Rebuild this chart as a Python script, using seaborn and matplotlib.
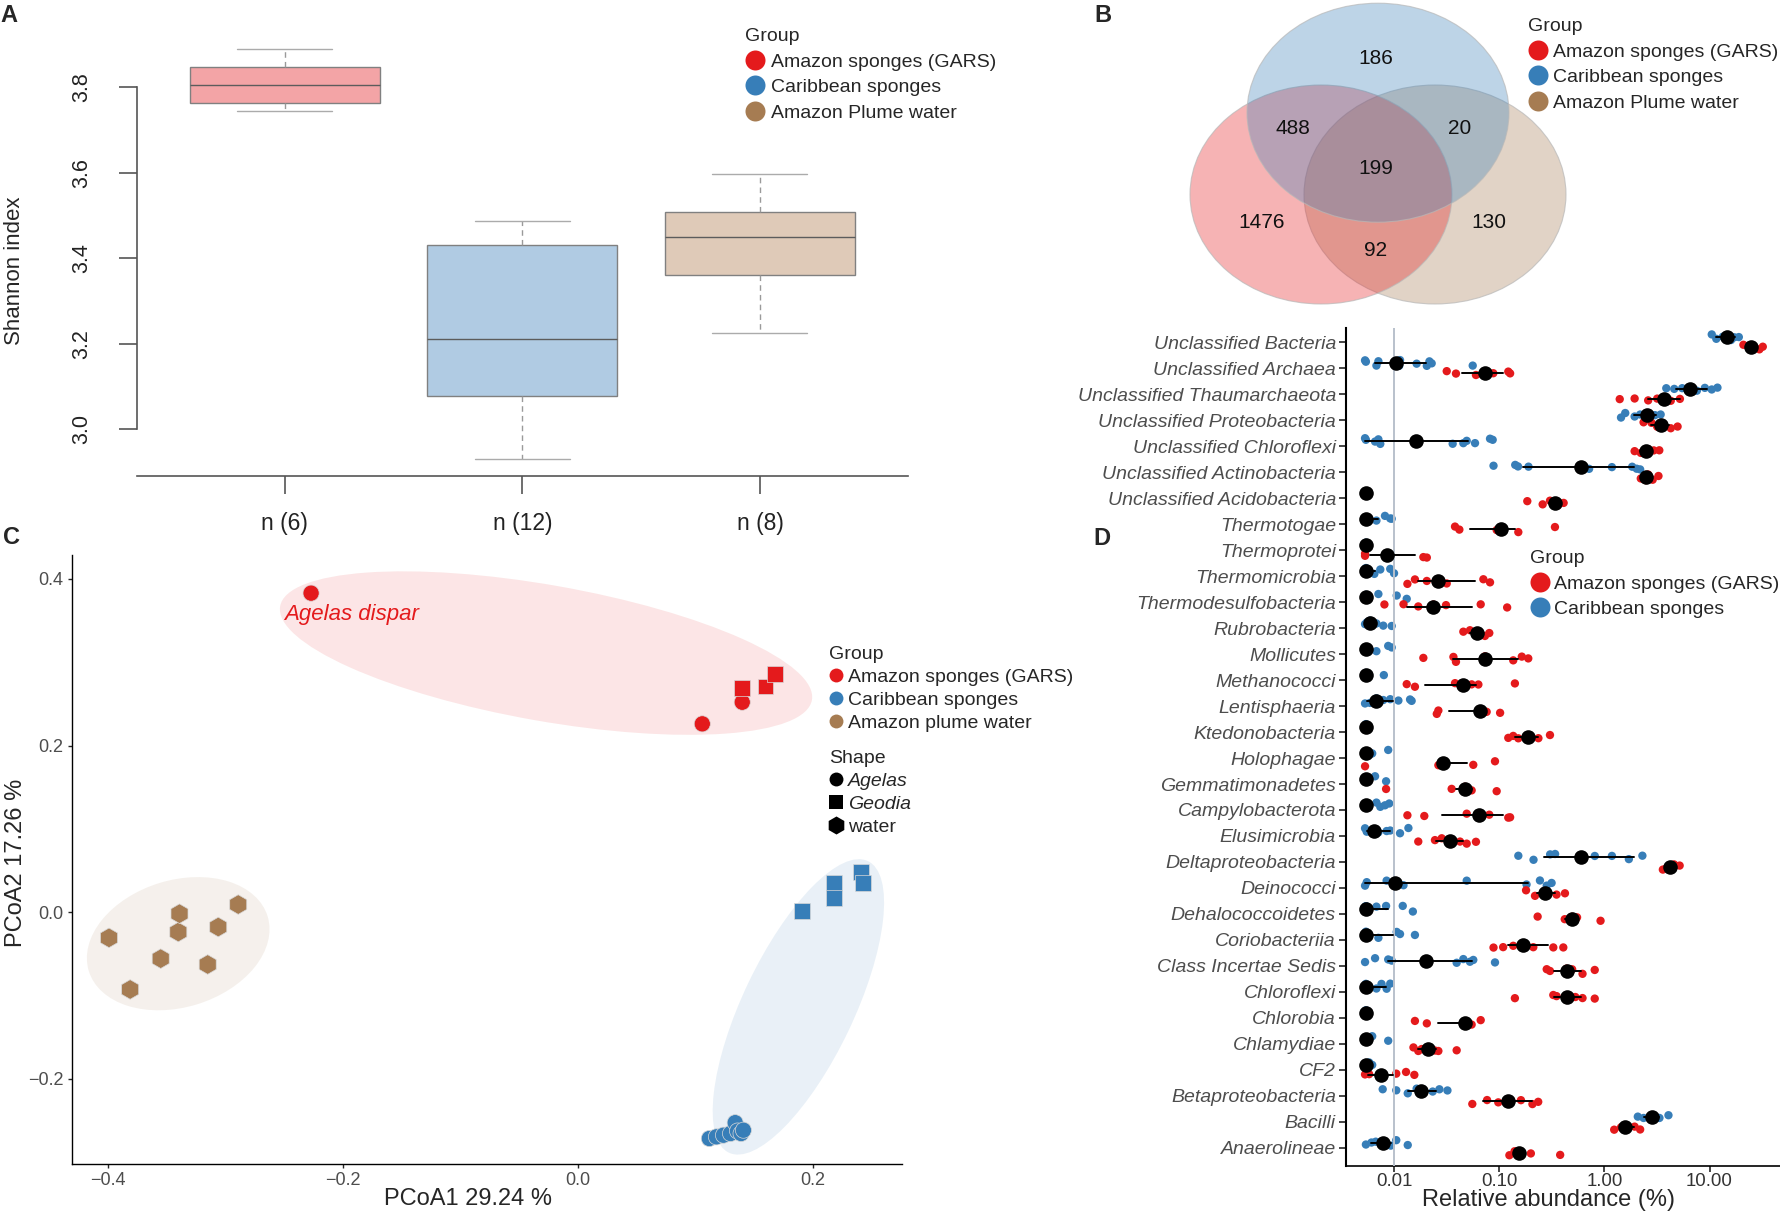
import numpy as np
import pandas as pd
import matplotlib
matplotlib.use("Agg")
import matplotlib.pyplot as plt
from matplotlib.lines import Line2D
from matplotlib.patches import Ellipse
from matplotlib.transforms import ScaledTranslation
from matplotlib.ticker import NullLocator
import seaborn as sns

sns.set_style("ticks")
plt.rcParams["font.family"] = ["Liberation Sans", "DejaVu Sans"]

RED = "#E41A1C"
BLUE = "#377EB8"
BROWN = "#A67C52"
GREY_TXT = "#4D4D4D"

####### Panel A data: Shannon index five-number summaries ##########
box_groups = ["n (6)", "n (12)", "n (8)"]
box_colors = ["#F3A4A6", "#B0CBE3", "#DFCAB8"]
shannon_whislo = [3.744, 2.930, 3.226]
shannon_q1 = [3.763, 3.077, 3.360]
shannon_med = [3.804, 3.212, 3.449]
shannon_q3 = [3.848, 3.430, 3.508]
shannon_whishi = [3.889, 3.488, 3.597]

####### Panel B data: shared ASVs ##########
venn_counts = [186, 488, 20, 199, 1476, 92, 130]

####### Panel C data: PCoA ##########
pcoa_x = [-0.227, 0.140, 0.106, 0.140, 0.160, 0.168,
          -0.399, -0.381, -0.355, -0.340, -0.339, -0.315, -0.306, -0.289,
          0.191, 0.218, 0.218, 0.241, 0.243,
          0.112, 0.118, 0.124, 0.130, 0.134, 0.136, 0.139, 0.141]
pcoa_y = [0.383, 0.252, 0.226, 0.269, 0.271, 0.286,
          -0.031, -0.093, -0.056, -0.024, -0.002, -0.063, -0.018, 0.009,
          0.001, 0.035, 0.017, 0.048, 0.035,
          -0.272, -0.270, -0.268, -0.266, -0.253, -0.263, -0.266, -0.262]
pcoa_group = (["Amazon sponges (GARS)"] * 6 + ["Amazon plume water"] * 8
              + ["Caribbean sponges"] * 13)
pcoa_shape = (["Agelas"] * 3 + ["Geodia"] * 3 + ["water"] * 8
              + ["Geodia"] * 5 + ["Agelas"] * 8)

####### Panel D data: relative abundance (%) per class ##########
Z = 0.0054  # absent taxa drawn at the left edge
taxa = ["Unclassified Bacteria", "Unclassified Archaea", "Unclassified Thaumarchaeota",
        "Unclassified Proteobacteria", "Unclassified Chloroflexi",
        "Unclassified Actinobacteria", "Unclassified Acidobacteria", "Thermotogae",
        "Thermoprotei", "Thermomicrobia", "Thermodesulfobacteria", "Rubrobacteria",
        "Mollicutes", "Methanococci", "Lentisphaeria", "Ktedonobacteria", "Holophagae",
        "Gemmatimonadetes", "Campylobacterota", "Elusimicrobia", "Deltaproteobacteria",
        "Deinococci", "Dehalococcoidetes", "Coriobacteriia", "Class Incertae Sedis",
        "Chloroflexi", "Chlorobia", "Chlamydiae", "CF2", "Betaproteobacteria",
        "Bacilli", "Anaerolineae"]

car_pts = [
    [10.5, 11.6, 13.4, 14.8, 16.0, 17.2, 19.0],
    [0.0053, 0.0054, 0.0068, 0.0071, 0.0104, 0.0112, 0.0114, 0.0164, 0.0205, 0.0217, 0.0228, 0.056],
    [3.88, 4.62, 5.5, 6.55, 7.58, 9.03, 10.5, 11.9],
    [1.44, 1.58, 1.94, 2.19, 2.55, 2.61, 3.03, 3.43],
    [0.0053, 0.0054, 0.0066, 0.0071, 0.0074, 0.0361, 0.0456, 0.0491, 0.0589, 0.0818, 0.0867],
    [0.0883, 0.142, 0.151, 0.190, 0.603, 0.716, 1.18, 1.84, 2.03, 2.19],
    [Z, Z, Z],
    [Z, Z, Z, 0.0068, 0.0082, 0.0092, 0.0095],
    [Z, Z, Z],
    [Z, Z, Z, 0.0065, 0.0074, 0.0092, 0.010],
    [Z, Z, Z, 0.0071, 0.0106, 0.0132],
    [0.0053, 0.0055, 0.0059, 0.0062, 0.0068, 0.0079, 0.0095],
    [Z, Z, Z, 0.0068, 0.0088, 0.0095],
    [Z, Z, Z, 0.008],
    [0.0053, 0.0059, 0.0068, 0.0079, 0.0092, 0.011, 0.0142, 0.0147],
    [Z, Z, Z],
    [Z, Z, Z, 0.0062, 0.0088],
    [Z, Z, Z, 0.0066, 0.0084],
    [Z, Z, Z, 0.0068, 0.0074, 0.0082, 0.009],
    [0.0053, 0.0055, 0.0065, 0.0071, 0.0085, 0.0092, 0.0114, 0.0137],
    [0.152, 0.212, 0.305, 0.34, 0.603, 0.811, 1.18, 1.71, 2.3],
    [0.0053, 0.0055, 0.0085, 0.0102, 0.0123, 0.0491, 0.182, 0.244, 0.283, 0.315],
    [Z, Z, Z, 0.0068, 0.0084, 0.0121, 0.0151],
    [Z, Z, Z, 0.0071, 0.0106, 0.0114, 0.0158],
    [0.0053, 0.0066, 0.0088, 0.0095, 0.0201, 0.0394, 0.0456, 0.0527, 0.0567, 0.0912],
    [Z, Z, Z, 0.0068, 0.0076, 0.0085, 0.0092],
    [Z, Z, Z],
    [Z, Z, Z, 0.0062, 0.0088],
    [Z, Z, Z, 0.0058, 0.0062],
    [0.0078, 0.0105, 0.0135, 0.0164, 0.0182, 0.0233, 0.027, 0.0322],
    [2.08, 2.36, 2.81, 3.34, 4.07],
    [0.0054, 0.0061, 0.0067, 0.0078, 0.0093, 0.0105, 0.0135],
]
car_mid = [14.8, 0.0104, 6.55, 2.55, 0.0162, 0.603, Z, Z, Z, Z, Z, 0.0059, Z, Z, 0.0068, Z,
           Z, Z, Z, 0.0065, 0.603, 0.0102, Z, Z, 0.0201, Z, Z, Z, Z, 0.0182, 2.81, 0.0078]
car_lo = [11.6, 0.0066, 4.8, 1.9, 0.0053, 0.168, Z, Z, Z, Z, Z, 0.0055, Z, Z, 0.0055, Z,
          Z, Z, Z, 0.0055, 0.266, 0.0053, Z, Z, 0.0088, Z, Z, Z, Z, 0.0135, 2.36, 0.0061]
car_hi = [17.5, 0.0201, 9.5, 3.1, 0.051, 1.93, Z, 0.0071, Z, 0.0066, 0.0062, 0.0068, Z, Z,
          0.0097, Z, Z, Z, 0.006, 0.0092, 1.93, 0.189, 0.0088, 0.0098, 0.0547, 0.0084, Z, Z,
          Z, 0.025, 3.3, 0.0093]

ama_pts = [
    [21.0, 23.2, 25.0, 26.3, 29.8, 32.1],
    [0.0317, 0.0388, 0.0601, 0.0732, 0.0879, 0.122, 0.127],
    [1.40, 1.94, 2.61, 3.18, 3.69, 4.28, 5.23],
    [2.36, 2.81, 3.18, 3.43, 3.69, 4.28, 4.97],
    [1.94, 2.22, 2.48, 2.61, 2.95, 3.33],
    [2.22, 2.40, 2.48, 2.61, 2.88, 3.27],
    [0.185, 0.259, 0.304, 0.33, 0.36, 0.41],
    [0.038, 0.0418, 0.0946, 0.105, 0.152, 0.339],
    [0.0053, 0.0053, 0.0086, 0.019, 0.0205],
    [0.0134, 0.0158, 0.0205, 0.0264, 0.0317, 0.0707, 0.0818],
    [0.0081, 0.0123, 0.017, 0.0237, 0.0312, 0.0667, 0.119],
    [0.0456, 0.0527, 0.061, 0.0732, 0.0805],
    [0.019, 0.0367, 0.0388, 0.0732, 0.136, 0.164, 0.189],
    [0.0132, 0.0158, 0.038, 0.045, 0.0547, 0.0634, 0.141],
    [0.0255, 0.0264, 0.0658, 0.076, 0.102],
    [0.122, 0.136, 0.152, 0.189, 0.236, 0.304],
    [0.0053, 0.0264, 0.0294, 0.0567, 0.0912],
    [0.0084, 0.0353, 0.0473, 0.0547, 0.0946],
    [0.0134, 0.0194, 0.0491, 0.0647, 0.0805, 0.122, 0.127],
    [0.017, 0.0245, 0.0284, 0.034, 0.0424, 0.0491, 0.0601],
    [3.6, 3.9, 4.18, 4.6, 5.2],
    [0.18, 0.219, 0.272, 0.351, 0.422],
    [0.232, 0.42, 0.494, 0.55, 0.92],
    [0.0883, 0.109, 0.136, 0.169, 0.211, 0.327, 0.407],
    [0.283, 0.304, 0.437, 0.494, 0.62, 0.81],
    [0.141, 0.327, 0.351, 0.437, 0.53, 0.62, 0.81],
    [0.0158, 0.0205, 0.0473, 0.0547, 0.0667],
    [0.0153, 0.017, 0.0183, 0.0212, 0.0245, 0.0264, 0.0394],
    [0.0053, 0.0058, 0.0075, 0.0105, 0.013, 0.0156],
    [0.0555, 0.0767, 0.098, 0.12, 0.161, 0.207, 0.235],
    [1.24, 1.44, 1.58, 1.94, 2.19],
    [0.125, 0.14, 0.154, 0.2, 0.38],
]
ama_mid = [25.0, 0.0732, 3.69, 3.43, 2.48, 2.48, 0.34, 0.105, 0.0086, 0.0264, 0.0237, 0.061,
           0.0732, 0.045, 0.0658, 0.189, 0.0294, 0.0473, 0.0647, 0.034, 4.18, 0.272, 0.494,
           0.169, 0.437, 0.437, 0.0473, 0.0212, 0.0075, 0.12, 1.58, 0.154]
ama_lo = [23.0, 0.044, 2.6, 2.8, 2.2, 2.3, 0.30, 0.0527, 0.0059, 0.017, 0.0134, 0.053,
          0.0367, 0.0197, 0.0336, 0.141, 0.0294, 0.039, 0.0284, 0.025, 3.8, 0.23, 0.42,
          0.122, 0.33, 0.33, 0.0264, 0.017, 0.0056, 0.07, 1.4, 0.14]
ama_hi = [28.0, 0.109, 5.2, 4.1, 2.8, 2.75, 0.37, 0.141, 0.0158, 0.0589, 0.0547, 0.068,
          0.152, 0.0601, 0.0658, 0.236, 0.049, 0.0547, 0.109, 0.045, 4.5, 0.34, 0.55,
          0.293, 0.6, 0.6, 0.0473, 0.025, 0.0098, 0.207, 1.9, 0.154]

W, H = 1780, 1215
fig = plt.figure(figsize=(W / 100, H / 100), dpi=100)


def rect(x0, y0, x1, y1):
    # pixel box (top-left origin) -> figure fraction rect
    return [x0 / W, 1 - y1 / H, (x1 - x0) / W, (y1 - y0) / H]


def group_legend(ax, colors, labels, title, x, y, ms, fs=14, spacing=0.41, hl=1.0, tp=0.36,
                 markers=None):
    markers = markers or ["o"] * len(colors)
    handles = [Line2D([], [], marker=m, ls="", color=c, markersize=s, markeredgewidth=0)
               for c, m, s in zip(colors, markers, np.broadcast_to(ms, len(colors)))]
    leg = ax.legend(handles, labels, title=title, loc="upper left",
                    bbox_to_anchor=(x / W, 1 - y / H), bbox_transform=fig.transFigure,
                    frameon=False, fontsize=fs, title_fontsize=fs, handlelength=hl,
                    handletextpad=tp, labelspacing=spacing, borderpad=0, borderaxespad=0)
    leg._legend_box.align = "left"
    return leg


####### Panel A ##########
ax_a = fig.add_axes(rect(136.6, 35.7, 908, 476))
a_vals, a_grp = [], []
for i, g in enumerate(box_groups):
    a_vals += [shannon_whislo[i], shannon_q1[i], shannon_med[i], shannon_q3[i], shannon_whishi[i]]
    a_grp += [g] * 5
df_a = pd.DataFrame({"group": a_grp, "shannon": a_vals})
sns.boxplot(data=df_a, x="group", y="shannon", hue="group", order=box_groups,
            palette=dict(zip(box_groups, box_colors)), saturation=1, width=0.8,
            linecolor="#808080", linewidth=1.0, showfliers=False,
            whiskerprops=dict(linestyle=(0, (4, 3)), color="#9a9a9a"),
            capprops=dict(color="#ababab"), medianprops=dict(color="#5c5c5c"),
            legend=False, ax=ax_a)
ax_a.set_xlim(-0.623, 2.623)
ax_a.set_ylim(2.891, 3.92)
sns.despine(ax=ax_a)
ax_a.spines["left"].set_bounds(3.0, 3.8)
for s in ["left", "bottom"]:
    ax_a.spines[s].set_color("#555555")
    ax_a.spines[s].set_linewidth(1.2)
ax_a.set_yticks([3.0, 3.2, 3.4, 3.6, 3.8])
ax_a.set_yticklabels(["3.0", "3.2", "3.4", "3.6", "3.8"])
ax_a.tick_params(axis="y", length=13, width=1.2, color="#555555", pad=19,
                 labelsize=15.5, labelrotation=90, labelcolor="#222222")
for lab in ax_a.get_yticklabels():
    lab.set_va("center")
ax_a.tick_params(axis="x", length=13, width=1.2, color="#555555", pad=13,
                 labelsize=16.5, labelcolor="#222222")
ax_a.set_xlabel("")
ax_a.set_ylabel("Shannon index", fontsize=16)
ax_a.yaxis.set_label_coords(-0.145, 0.466)
group_legend(ax_a, [RED, BLUE, BROWN],
             ["Amazon sponges (GARS)", "Caribbean sponges", "Amazon Plume water"],
             "Group", 745, 28, 14.4)

####### Panel B ##########
ax_b = fig.add_axes(rect(1150, 0, 1590, 320))
ax_b.set_xlim(1150, 1590)
ax_b.set_ylim(320, 0)
ax_b.axis("off")
venn_centers = [(1435, 194.5), (1321, 194.5), (1378, 112.7)]
venn_fill = [BROWN, RED, BLUE]
for (cx, cy), c in zip(venn_centers, venn_fill):
    ax_b.add_patch(Ellipse((cx, cy), 262, 219, facecolor=c, alpha=0.33, edgecolor="none"))
    ax_b.add_patch(Ellipse((cx, cy), 262, 219, facecolor="none", edgecolor="#b8b8b8",
                           linewidth=0.8, alpha=0.7))
venn_pos = [(1376, 58), (1292.6, 128), (1459.8, 128), (1376, 168), (1261.7, 223),
            (1376, 250), (1489, 223)]
for (tx, ty), n in zip(venn_pos, venn_counts):
    ax_b.text(tx, ty, str(n), ha="center", va="center", fontsize=15, color="#111111")
group_legend(ax_b, [RED, BLUE, BROWN],
             ["Amazon sponges (GARS)", "Caribbean sponges", "Amazon Plume water"],
             "Group", 1528, 18, 14.4, tp=0.3)

####### Panel C ##########
ax_c = fig.add_axes(rect(72, 555, 902, 1163.5))
ax_c.set_xlim(-0.4305, 0.276)
ax_c.set_ylim(-0.302, 0.4288)
ell_cx = [-0.0270, 0.1878, -0.3401]
ell_cy = [0.311, -0.1139, -0.038]
ell_w = [5.40, 3.23, 1.87]   # inches (full axes)
ell_h = [1.36, 1.11, 1.27]
ell_ang = [-10.0, 64.5, 17.0]
ell_col = [RED, BLUE, BROWN]
for cx, cy, w, h, a, c in zip(ell_cx, ell_cy, ell_w, ell_h, ell_ang, ell_col):
    tr = fig.dpi_scale_trans + ScaledTranslation(cx, cy, ax_c.transData)
    ax_c.add_patch(Ellipse((0, 0), w, h, angle=a, transform=tr, facecolor=c,
                           alpha=0.11, edgecolor="none", zorder=1))
df_c = pd.DataFrame({"PCoA1": pcoa_x, "PCoA2": pcoa_y, "group": pcoa_group, "shape": pcoa_shape})
sns.scatterplot(data=df_c, x="PCoA1", y="PCoA2", hue="group", style="shape", size="shape",
                palette={"Amazon sponges (GARS)": RED, "Caribbean sponges": BLUE,
                         "Amazon plume water": BROWN},
                markers={"Agelas": "o", "Geodia": "s", "water": "h"},
                sizes={"Agelas": 135, "Geodia": 125, "water": 200},
                edgecolor="#d8d8d8", linewidth=0.5, legend=False, ax=ax_c, zorder=3)
ax_c.text(-0.250, 0.3568, "Agelas dispar", color=RED, style="italic", fontsize=16,
          ha="left", va="center")
sns.despine(ax=ax_c)
ax_c.set_xticks([-0.4, -0.2, 0.0, 0.2])
ax_c.set_yticks([-0.2, 0.0, 0.2, 0.4])
ax_c.tick_params(length=3, width=1, labelsize=13, labelcolor=GREY_TXT, pad=3)
for s in ["left", "bottom"]:
    ax_c.spines[s].set_color("black")
    ax_c.spines[s].set_linewidth(1.0)
ax_c.set_xlabel("PCoA1 29.24 %", fontsize=17)
ax_c.set_ylabel("PCoA2 17.26 %", fontsize=17)
ax_c.xaxis.set_label_coords(0.477, -0.040)
ax_c.yaxis.set_label_coords(-0.054, 0.494)
leg_g = group_legend(ax_c, [RED, BLUE, BROWN],
                     ["Amazon sponges (GARS)", "Caribbean sponges", "Amazon plume water"],
                     "Group", 829, 646, 10, spacing=0.28, hl=0.72, tp=0.28)
ax_c.add_artist(leg_g)
leg_s = group_legend(ax_c, ["black", "black", "black"], ["Agelas", "Geodia", "water"],
                     "Shape", 829, 750, [10, 10, 13], spacing=0.28, hl=0.72, tp=0.28,
                     markers=["o", "s", "h"])
leg_s.get_texts()[0].set_style("italic")
leg_s.get_texts()[1].set_style("italic")

####### Panel D ##########
CAR, AMA = "Caribbean sponges", "Amazon sponges (GARS)"
ax_d = fig.add_axes(rect(1345.7, 327.7, 1780, 1166))
rows, srows = [], []
for i, t in enumerate(taxa):
    rows += [(t, CAR, v) for v in car_pts[i]]
    rows += [(t, AMA, v) for v in ama_pts[i]]
    srows += [(t, CAR, v) for v in (car_lo[i], car_mid[i], car_hi[i])]
    srows += [(t, AMA, v) for v in (ama_lo[i], ama_mid[i], ama_hi[i])]
df_pts = pd.DataFrame(rows, columns=["taxon", "group", "abundance"])
df_sum = pd.DataFrame(srows, columns=["taxon", "group", "abundance"])

ax_d.axvline(0.01, color="#B9C1CC", linewidth=1.4, zorder=0)
np.random.seed(7)
sns.stripplot(data=df_pts, x="abundance", y="taxon", hue="group", order=taxa,
              hue_order=[CAR, AMA], palette={CAR: BLUE, AMA: RED}, dodge=True,
              jitter=0.24, size=6, linewidth=0, log_scale=True, legend=False, ax=ax_d,
              zorder=2)
sns.pointplot(data=df_sum, x="abundance", y="taxon", hue="group", order=taxa,
              hue_order=[CAR, AMA], palette={CAR: "black", AMA: "black"},
              estimator="median", errorbar=("pi", 100), dodge=0.4, linestyle="none",
              marker="o", markersize=10.5, markeredgewidth=0, err_kws={"linewidth": 1.4},
              log_scale=True, legend=False, ax=ax_d, zorder=5)
for art in ax_d.lines + ax_d.collections:
    if art.get_zorder() < 5 and isinstance(art, Line2D):
        art.set_zorder(5)
ax_d.set_xlim(0.00347, 46.8)
ax_d.set_ylim(31.70, -0.56)
ax_d.set_xticks([0.01, 0.1, 1, 10])
ax_d.set_xticklabels(["0.01", "0.10", "1.00", "10.00"])
ax_d.xaxis.set_minor_locator(NullLocator())
sns.despine(ax=ax_d)
ax_d.spines["left"].set_linewidth(1.5)
ax_d.spines["bottom"].set_linewidth(1.2)
ax_d.spines["left"].set_color("black")
ax_d.spines["bottom"].set_color("black")
ax_d.tick_params(axis="y", length=5, width=1.2, pad=2, labelsize=14, labelcolor=GREY_TXT)
ax_d.tick_params(axis="x", length=4, width=1.2, pad=1, labelsize=13.4, labelcolor="#333333")
for lab in ax_d.get_yticklabels():
    lab.set_style("italic")
ax_d.set_ylabel("")
ax_d.set_xlabel("Relative abundance (%)", fontsize=17)
ax_d.xaxis.set_label_coords(0.466, -0.027)
group_legend(ax_d, [RED, BLUE], ["Amazon sponges (GARS)", "Caribbean sponges"],
             "Group", 1530, 550, 14.4, tp=0.26)

####### Panel letters ##########
for letter, (px, py) in zip("ABCD", [(0, 15.5), (1094, 15), (3, 537), (1093, 538)]):
    fig.text(px / W, 1 - py / H, letter, fontsize=17, fontweight="bold",
             ha="left", va="center")

fig.savefig("out.png", dpi=100)
